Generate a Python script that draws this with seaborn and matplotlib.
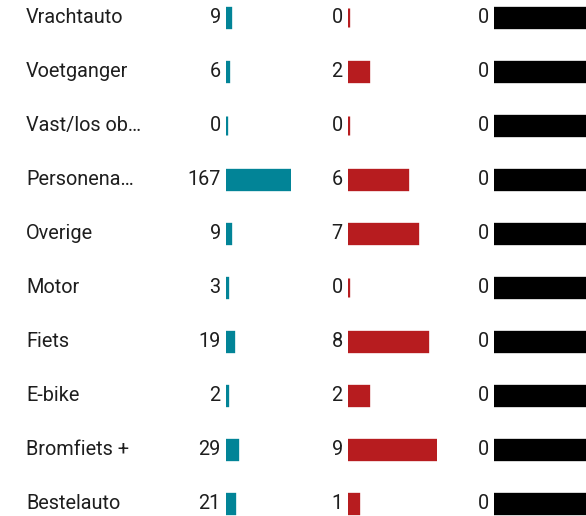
import matplotlib
matplotlib.use("Agg")
import matplotlib.pyplot as plt
import matplotlib.transforms as mtransforms
import numpy as np
import pandas as pd
import seaborn as sns


CATEGORIES = [
    "Vrachtauto",
    "Voetganger",
    "Vast/los ob…",
    "Personena…",
    "Overige",
    "Motor",
    "Fiets",
    "E-bike",
    "Bromfiets +",
    "Bestelauto",
]
TEAL_VALUES = [9, 6, 0, 167, 9, 3, 19, 2, 29, 21]
RED_VALUES = [0, 2, 0, 6, 7, 0, 8, 2, 9, 1]
BLACK_VALUES = [0, 0, 0, 0, 0, 0, 0, 0, 0, 0]

W, H = 586, 516
ROW_TOP, ROW_STEP = 17.5, 54.0
FONT_SIZE = 14.3

# (values, bar start px, full bar length px, colour)
COLUMNS = [
    (TEAL_VALUES, 226.0, 65, "#028497"),
    (RED_VALUES, 348.0, 89, "#b71c1f"),
    (BLACK_VALUES, 494.0, 100, "#000000"),
]


def shares(values):
    values = np.asarray(values, dtype=float)
    top = values.max()
    if top == 0:
        # 0/0 share shows as a full bar
        return np.ones_like(values)
    return values / top


def main():
    sns.set_theme(style="white")
    plt.rcParams["font.family"] = ["Roboto", "DejaVu Sans"]

    fig = plt.figure(figsize=(W / 100, H / 100), dpi=100)
    n = len(CATEGORIES)
    # axes spans rows so that row centres sit at ROW_TOP + i * ROW_STEP
    y_top = ROW_TOP - ROW_STEP / 2
    y_bot = ROW_TOP + (n - 0.5) * ROW_STEP
    bottom = 1 - y_bot / H
    height = (y_bot - y_top) / H

    first_ax = None
    for values, x0, full, color in COLUMNS:
        ax = fig.add_axes([x0 / W, bottom, full / W, height])
        df = pd.DataFrame({"category": CATEGORIES, "share": shares(values)})
        sns.barplot(
            data=df, x="share", y="category", orient="h", color=color,
            width=0.37, edgecolor=color, linewidth=2.4, saturation=1,
            ax=ax,
        )
        ax.set_xlim(0, 1)
        ax.set_ylim(n - 0.5, -0.5)
        ax.set_axis_off()
        ax.patch.set_alpha(0)
        for i, v in enumerate(values):
            ax.annotate(
                str(v), xy=(0, i), xytext=(-3.8, 0), textcoords="offset points",
                ha="right", va="center", fontsize=FONT_SIZE, color="#1e1e1e",
            )
        if first_ax is None:
            first_ax = ax

    trans = mtransforms.blended_transform_factory(fig.transFigure, first_ax.transData)
    for i, cat in enumerate(CATEGORIES):
        first_ax.text(
            26 / W, i, cat, transform=trans, ha="left", va="center",
            fontsize=FONT_SIZE, color="#1e1e1e", clip_on=False,
        )

    fig.savefig("out.png", dpi=100)
    plt.close(fig)


if __name__ == "__main__":
    main()
